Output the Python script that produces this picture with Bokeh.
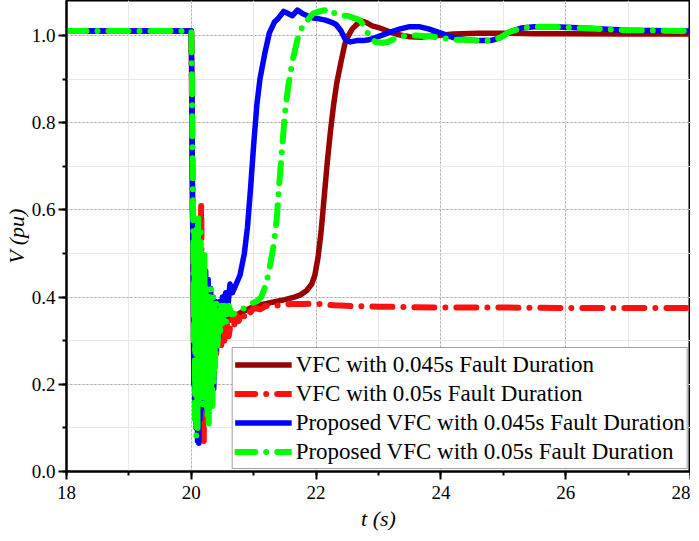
from bokeh.plotting import figure
from bokeh.models import SingleIntervalTicker, PrintfTickFormatter, Range1d
from bokeh.embed import file_html
from bokeh.resources import INLINE

# ---------------- data ----------------
x_ticks_major = [18, 20, 22, 24, 26, 28]
y_ticks_major = [0.0, 0.2, 0.4, 0.6, 0.8, 1.0]

labels = ["VFC with 0.045s Fault Duration",
          "VFC with 0.05s Fault Duration",
          "Proposed VFC with 0.045s Fault Duration",
          "Proposed VFC with 0.05s Fault Duration"]

# VFC, 0.045 s fault
t_vfc_045 = [18.0, 20.0, 20.01, 20.02, 20.03, 20.04, 20.05, 20.06, 20.07, 20.08, 20.09,
             20.10, 20.11, 20.12, 20.13, 20.14, 20.15, 20.16, 20.17, 20.18, 20.19, 20.20,
             20.21, 20.22, 20.24, 20.26, 20.28, 20.30, 20.33, 20.36, 20.40, 20.45, 20.50,
             20.55, 20.62, 20.70, 20.80, 20.95, 21.1, 21.3, 21.5, 21.65, 21.75, 21.85,
             21.93, 21.98, 22.03, 22.08, 22.13, 22.18, 22.23, 22.28, 22.33, 22.40, 22.46,
             22.52, 22.58, 22.65, 22.72, 22.80, 22.90, 23.0, 23.15, 23.3, 23.5, 23.7, 23.9,
             24.2, 24.6, 25.0, 25.5, 26.0, 27.0, 28.0]
v_vfc_045 = [1.01, 1.01, 0.85, 0.60, 0.45, 0.20, 0.50, 0.12, 0.45, 0.10, 0.50,
             0.10, 0.45, 0.15, 0.42, 0.18, 0.45, 0.20, 0.42, 0.22, 0.40, 0.25,
             0.40, 0.26, 0.38, 0.28, 0.38, 0.29, 0.37, 0.31, 0.36, 0.33, 0.36,
             0.34, 0.36, 0.355, 0.365, 0.375, 0.382, 0.388, 0.394, 0.40, 0.405, 0.415,
             0.43, 0.45, 0.49, 0.55, 0.63, 0.71, 0.78, 0.84, 0.89, 0.94, 0.98,
             1.0, 1.015, 1.025, 1.033, 1.03, 1.022, 1.018, 1.01, 1.002, 0.997, 0.996, 0.999,
             1.003, 1.005, 1.005, 1.004, 1.004, 1.003, 1.003]

# VFC, 0.05 s fault
t_vfc_05 = [18.0, 20.0, 20.01, 20.02, 20.03, 20.04, 20.05, 20.06, 20.07, 20.08, 20.09,
            20.10, 20.11, 20.12, 20.13, 20.14, 20.15, 20.16, 20.17, 20.18, 20.19, 20.20,
            20.21, 20.22, 20.23, 20.24, 20.25, 20.26, 20.27, 20.28, 20.30, 20.32, 20.34,
            20.36, 20.38, 20.40, 20.42, 20.44, 20.46, 20.48, 20.50, 20.53, 20.56, 20.60,
            20.64, 20.68, 20.72, 20.76, 20.80, 20.85, 20.90, 20.95, 21.0, 21.1, 21.2,
            21.3, 21.45, 21.6, 21.8, 22.0, 22.3, 22.6, 23.0, 23.5, 24.0, 25.0, 26.0,
            27.0, 28.0]
v_vfc_05 = [1.01, 1.01, 0.85, 0.65, 0.55, 0.35, 0.58, 0.30, 0.55, 0.20, 0.50,
            0.15, 0.48, 0.10, 0.50, 0.08, 0.55, 0.62, 0.30, 0.12, 0.45, 0.07,
            0.40, 0.12, 0.42, 0.20, 0.38, 0.22, 0.40, 0.25, 0.36, 0.26, 0.38,
            0.28, 0.36, 0.27, 0.35, 0.28, 0.36, 0.29, 0.35, 0.30, 0.35, 0.31,
            0.35, 0.33, 0.36, 0.345, 0.365, 0.355, 0.37, 0.365, 0.375, 0.372, 0.38,
            0.378, 0.383, 0.384, 0.384, 0.385, 0.381, 0.379, 0.378, 0.377, 0.376, 0.376, 0.375,
            0.375, 0.375]

# Proposed VFC, 0.045 s fault
t_prop_045 = [18.0, 20.0, 20.01, 20.02, 20.03, 20.04, 20.05, 20.06, 20.07, 20.08, 20.09,
              20.10, 20.11, 20.12, 20.13, 20.14, 20.15, 20.16, 20.17, 20.18, 20.19, 20.20,
              20.21, 20.22, 20.23, 20.24, 20.25, 20.26, 20.27, 20.28, 20.29, 20.30, 20.31,
              20.32, 20.33, 20.34, 20.35, 20.36, 20.37, 20.38, 20.39, 20.40, 20.42, 20.44,
              20.46, 20.48, 20.50, 20.52, 20.55, 20.58, 20.62, 20.66, 20.72, 20.78, 20.85,
              20.90, 20.95, 21.00, 21.05, 21.10, 21.18, 21.25, 21.33, 21.40, 21.48, 21.55,
              21.62, 21.70, 21.78, 21.86, 21.95, 22.05, 22.15, 22.25, 22.32, 22.40, 22.47,
              22.55, 22.65, 22.75, 22.85, 22.95, 23.05, 23.2, 23.35, 23.5, 23.65, 23.8,
              24.0, 24.2, 24.4, 24.6, 24.8, 24.95, 25.1, 25.3, 25.5, 25.8, 26.1, 26.5,
              27.0, 28.0]
v_prop_045 = [1.01, 1.01, 0.85, 0.60, 0.50, 0.25, 0.55, 0.15, 0.50, 0.10, 0.52,
              0.07, 0.48, 0.065, 0.50, 0.12, 0.47, 0.15, 0.45, 0.18, 0.48, 0.15,
              0.44, 0.17, 0.46, 0.14, 0.42, 0.16, 0.44, 0.15, 0.40, 0.18, 0.42,
              0.17, 0.38, 0.20, 0.40, 0.19, 0.37, 0.24, 0.39, 0.28, 0.38, 0.31,
              0.39, 0.34, 0.40, 0.35, 0.41, 0.37, 0.43, 0.41, 0.43, 0.45, 0.50,
              0.56, 0.65, 0.75, 0.84, 0.90, 0.96, 1.005, 1.03, 1.04, 1.055, 1.05,
              1.045, 1.058, 1.05, 1.045, 1.04, 1.038, 1.035, 1.03, 1.025, 1.01, 0.99,
              0.985, 0.988, 0.988, 0.99, 0.995, 1.0, 1.008, 1.015, 1.02, 1.02, 1.015,
              1.005, 0.995, 0.99, 0.988, 0.988, 0.995, 1.008, 1.017, 1.02, 1.02, 1.018, 1.015,
              1.012, 1.01]

# Proposed VFC, 0.05 s fault
t_prop_05 = [18.0, 20.0, 20.01, 20.02, 20.03, 20.04, 20.05, 20.06, 20.07, 20.08, 20.09,
             20.10, 20.11, 20.12, 20.13, 20.14, 20.15, 20.16, 20.17, 20.18, 20.19, 20.20,
             20.21, 20.22, 20.23, 20.24, 20.25, 20.26, 20.27, 20.28, 20.29, 20.30, 20.31,
             20.32, 20.33, 20.34, 20.35, 20.36, 20.37, 20.38, 20.40, 20.42, 20.44, 20.46,
             20.48, 20.50, 20.53, 20.56, 20.60, 20.65, 20.75, 20.85, 20.95, 21.05, 21.12,
             21.2, 21.26, 21.32, 21.37, 21.41, 21.46, 21.50, 21.55, 21.62, 21.70, 21.78,
             21.86, 21.95, 22.05, 22.15, 22.22, 22.30, 22.40, 22.50, 22.60, 22.70, 22.78,
             22.86, 22.95, 23.05, 23.15, 23.3, 23.45, 23.6, 23.8, 24.0, 24.2, 24.4, 24.6,
             24.8, 24.95, 25.1, 25.3, 25.5, 25.8, 26.1, 26.5, 27.0, 28.0]
v_prop_05 = [1.01, 1.01, 0.90, 0.70, 0.58, 0.30, 0.55, 0.12, 0.50, 0.08, 0.56,
             0.10, 0.58, 0.15, 0.50, 0.18, 0.55, 0.20, 0.48, 0.15, 0.45, 0.20,
             0.50, 0.18, 0.42, 0.15, 0.40, 0.12, 0.38, 0.11, 0.40, 0.14, 0.42,
             0.16, 0.38, 0.15, 0.40, 0.20, 0.38, 0.24, 0.39, 0.28, 0.38, 0.31,
             0.38, 0.33, 0.38, 0.34, 0.38, 0.36, 0.365, 0.375, 0.385, 0.39, 0.40,
             0.43, 0.47, 0.52, 0.58, 0.66, 0.75, 0.82, 0.88, 0.94, 0.99, 1.02,
             1.035, 1.05, 1.055, 1.058, 1.06, 1.05, 1.045, 1.045, 1.04, 1.035, 1.02,
             0.995, 0.985, 0.983, 0.985, 0.995, 1.0, 1.0, 0.998, 0.995, 0.99, 0.99, 0.988,
             0.988, 0.995, 1.008, 1.017, 1.02, 1.02, 1.018, 1.015, 1.012, 1.01]

# ---------------- figure ----------------
SERIF = "Liberation Serif"

p = figure(width=690, height=533, output_backend="svg", toolbar_location=None,
           x_range=Range1d(18, 28), y_range=Range1d(0, 1.08),
           min_border_left=50, min_border_right=0, min_border_top=0, min_border_bottom=50,
           background_fill_color="white", border_fill_color="white")

p.outline_line_color = "black"
p.outline_line_width = 2

xt = SingleIntervalTicker(interval=2, num_minor_ticks=2)
yt = SingleIntervalTicker(interval=0.2, num_minor_ticks=2)
xax = p.xaxis[0]
yax = p.yaxis[0]
xax.ticker = xt
yax.ticker = yt
p.xgrid[0].ticker = xt
p.ygrid[0].ticker = yt
yax.formatter = PrintfTickFormatter(format="%.1f")

for ax in (xax, yax):
    ax.axis_line_color = "black"
    ax.axis_line_width = 2
    ax.major_tick_line_color = "black"
    ax.major_tick_line_width = 2
    ax.minor_tick_line_color = "black"
    ax.minor_tick_line_width = 2
    ax.major_tick_in = 0
    ax.major_tick_out = 8
    ax.minor_tick_in = 0
    ax.minor_tick_out = 4
    ax.major_label_text_font = SERIF
    ax.major_label_text_font_size = "19px"
    ax.major_label_text_font_style = "normal"
    ax.major_label_text_color = "black"
    ax.axis_label_text_font = SERIF
    ax.axis_label_text_font_size = "22px"
    ax.axis_label_text_font_style = "italic"
    ax.axis_label_text_color = "black"

xax.axis_label = "t (s)"
yax.axis_label = "V (pu)"
xax.major_label_standoff = 6
yax.major_label_standoff = 3
xax.axis_label_standoff = 4
yax.axis_label_standoff = 0

for g in (p.xgrid[0], p.ygrid[0]):
    g.grid_line_color = "#a8a8a8"
    g.grid_line_dash = "2 2"
    g.grid_line_width = 1
    g.minor_grid_line_color = "#e8e8e8"
    g.minor_grid_line_width = 1

dashdot = "20 11 0 11"
p.line(t_vfc_045, v_vfc_045, line_color="#990000", line_width=5.5,
       line_join="round", legend_label=labels[0])
p.line(t_vfc_05, v_vfc_05, line_color="#ff1010", line_width=6, line_dash=dashdot,
       line_cap="round", line_join="round", legend_label=labels[1])
p.line(t_prop_045, v_prop_045, line_color="#0000ff", line_width=5.5,
       line_join="round", legend_label=labels[2])
p.line(t_prop_05, v_prop_05, line_color="#00ff00", line_width=6, line_dash=dashdot,
       line_cap="round", line_join="round", legend_label=labels[3])

lg = p.legend[0]
lg.location = "bottom_right"
lg.margin = 2
lg.padding = 2
lg.spacing = 0
lg.glyph_width = 57
lg.glyph_height = 29
lg.label_height = 29
lg.label_standoff = 4
lg.label_text_font = SERIF
lg.label_text_font_size = "23px"
lg.label_text_color = "black"
lg.border_line_color = "#444444"
lg.border_line_width = 1
lg.background_fill_color = "white"
lg.background_fill_alpha = 1.0

open("out.html", "w").write(file_html(p, INLINE))
